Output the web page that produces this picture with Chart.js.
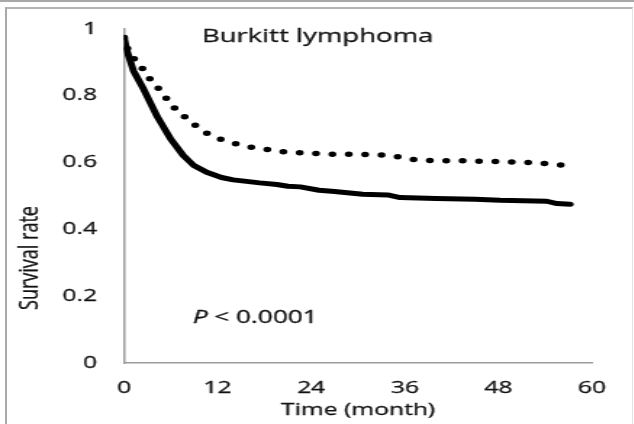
<!DOCTYPE html>
<html>
<head>
<meta charset="utf-8">
<script src="https://cdn.jsdelivr.net/npm/chart.js@4/dist/chart.umd.min.js"></script>
<style>
  html, body { margin: 0; padding: 0; background: #fff; }
  body { width: 634px; height: 424px; position: relative; overflow: hidden; }
  .rule-top { position: absolute; left: 0; top: 0; width: 634px; height: 2px; background: #a9a9a9; }
  .frame { position: absolute; left: 5px; top: 7px; right: 1px; bottom: -2px;
           border-left: 2px solid #a9a9a9; border-top: 2px solid #b5b5b5; border-right: 1px solid #e4e4e4; }
  /* the figure is drawn narrow and widened, like the source graphic */
  .wrap { position: absolute; left: 0; top: 0; transform: scaleX(1.45); transform-origin: 0 0; }
</style>
</head>
<body>
<div class="rule-top"></div>
<div class="frame"></div>
<div class="wrap"><canvas id="survivalChart" width="437" height="424"></canvas></div>
<script>
// Kaplan-Meier style survival curves (time in months)
const solidMonths = [0, 0.3, 1.2, 2.5, 4.2, 6, 7.6, 8.9, 10.6, 12.5, 14, 17.4, 19.6, 21, 22.6, 25, 27, 30.6, 33.8, 35.4, 40, 45, 48.2, 54.2, 55.5, 57.2];
const solidSurvival = [0.975, 0.94, 0.875, 0.82, 0.74, 0.67, 0.621, 0.592, 0.571, 0.555, 0.548, 0.539, 0.534, 0.529, 0.527, 0.517, 0.513, 0.505, 0.503, 0.495, 0.492, 0.49, 0.487, 0.484, 0.477, 0.475];

const dottedMonths = [0, 0.5, 1.4, 2.4, 3.3, 4.4, 5.3, 6.3, 7.6, 8.8, 10.3, 11.9, 13.8, 15.8, 17.8, 19.9, 21.9, 24.1, 26.3, 30.5, 32.7, 34.9, 36.9, 39.1, 43.3, 47.7, 51.9, 54.1, 56.3];
const dottedSurvival = [0.974, 0.936, 0.907, 0.88, 0.851, 0.822, 0.796, 0.767, 0.74, 0.717, 0.691, 0.673, 0.659, 0.647, 0.641, 0.633, 0.63, 0.627, 0.625, 0.624, 0.623, 0.618, 0.609, 0.606, 0.605, 0.603, 0.6, 0.597, 0.592];

const xTicks = [0, 12, 24, 36, 48, 60];
const yTicks = [0, 0.2, 0.4, 0.6, 0.8, 1];

const toPoints = (xs, ys) => xs.map((x, i) => ({ x: x, y: ys[i] }));

const axisGray = '#9c9c9c';
const textColor = '#111';
const fontFamily = '"Open Sans", "Liberation Sans", sans-serif';

// fill plus a thin stroke so the lettering reads a bit heavier
function boldText(ctx, text, x, y) {
  ctx.fillText(text, x, y);
  ctx.strokeText(text, x, y);
}

// titles and the p-value note, drawn on top of the plot
const chartText = {
  id: 'chartText',
  afterDraw(chart) {
    const ctx = chart.ctx;
    ctx.save();
    ctx.fillStyle = textColor;
    ctx.strokeStyle = textColor;
    ctx.lineWidth = 0.3;
    ctx.textBaseline = 'alphabetic';

    ctx.font = '19px ' + fontFamily;
    ctx.textAlign = 'center';
    boldText(ctx, 'Burkitt lymphoma', 219, 42);

    ctx.font = 'italic 18px ' + fontFamily;
    ctx.textAlign = 'left';
    boldText(ctx, 'P', 133, 323);
    const pw = ctx.measureText('P').width;
    ctx.font = '18px ' + fontFamily;
    boldText(ctx, ' < 0.0001', 133 + pw, 323);

    ctx.font = '17px ' + fontFamily;
    ctx.textAlign = 'center';
    boldText(ctx, 'Time (month)', 247, 415);

    ctx.translate(26, 258);
    ctx.rotate(-Math.PI / 2);
    ctx.font = '18px ' + fontFamily;
    boldText(ctx, 'Survival rate', 0, 0);
    ctx.restore();
  }
};

new Chart(document.getElementById('survivalChart'), {
  type: 'line',
  data: {
    datasets: [{
      label: 'Group 1',
      data: toPoints(dottedMonths, dottedSurvival),
      borderColor: '#000',
      borderWidth: 5.5,
      borderDash: [0, 11.3],
      borderCapStyle: 'round',
      borderJoinStyle: 'round',
      pointRadius: 0,
      tension: 0,
      fill: false
    }, {
      label: 'Group 2',
      data: toPoints(solidMonths, solidSurvival),
      borderColor: '#000',
      borderWidth: 5,
      borderCapStyle: 'round',
      borderJoinStyle: 'round',
      pointRadius: 0,
      tension: 0,
      fill: false
    }]
  },
  options: {
    responsive: false,
    animation: false,
    devicePixelRatio: 1,
    layout: { padding: { left: 0, right: 28.7, top: 20, bottom: 0 } },
    plugins: {
      legend: { display: false },
      tooltip: { enabled: false }
    },
    scales: {
      x: {
        type: 'linear',
        min: 0,
        max: 60,
        afterBuildTicks: (scale) => { scale.ticks = xTicks.map(v => ({ value: v })); },
        afterFit: (scale) => { scale.height = 61; },
        grid: { display: false, drawTicks: false },
        border: { display: true, color: axisGray, width: 1.5 },
        ticks: {
          padding: 15,
          color: textColor,
          textStrokeColor: textColor,
          textStrokeWidth: 0.3,
          font: { family: fontFamily, size: 17 },
          maxRotation: 0,
          callback: (v) => String(v)
        }
      },
      y: {
        min: 0,
        max: 1,
        afterBuildTicks: (scale) => { scale.ticks = yTicks.map(v => ({ value: v })); },
        afterFit: (scale) => { scale.width = 85.5; },
        grid: { display: false, drawTicks: false },
        border: { display: true, color: axisGray, width: 1.5 },
        ticks: {
          padding: 18.6,
          color: textColor,
          textStrokeColor: textColor,
          textStrokeWidth: 0.3,
          font: { family: fontFamily, size: 17 },
          callback: (v) => String(v)
        }
      }
    }
  },
  plugins: [chartText]
});
</script>
</body>
</html>
